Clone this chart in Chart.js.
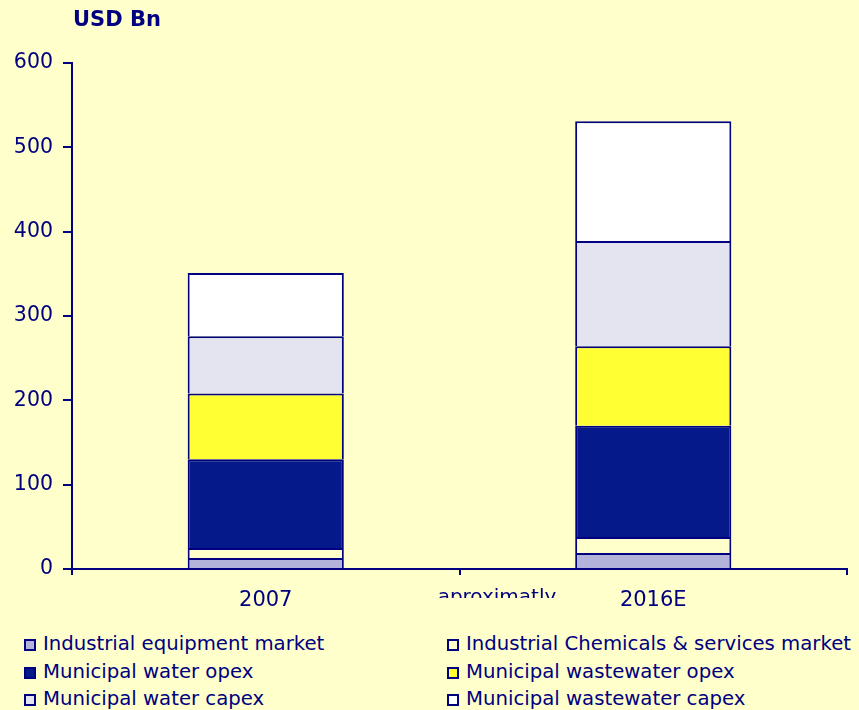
<!DOCTYPE html>
<html>
<head>
<meta charset="utf-8">
<script src="https://cdn.jsdelivr.net/npm/chart.js@4.4.1/dist/chart.umd.min.js"></script>
<style>
  body { margin: 0; background: #ffffcc; font-family: "DejaVu Sans", Verdana, sans-serif; color: #000080; }
  #wrap { position: relative; width: 859px; height: 710px; overflow: hidden; background: #ffffcc; }
  #chart { position: absolute; left: 0; top: 0; }
  #unit { position: absolute; left: 73px; top: 9px; font-weight: bold; font-size: 21px; line-height: 21px; }
  #note { position: absolute; left: 397px; width: 200px; text-align: center; top: 584px; height: 14px; overflow: hidden; font-size: 20px; }
  .leg { position: absolute; font-size: 19.7px; line-height: 20px; white-space: nowrap; }
  .leg i { position: absolute; left: 0; top: 0; width: 8px; height: 8px; border: 2px solid #000080; }
  .leg span { position: absolute; left: 19px; top: -5px; }
</style>
</head>
<body>
<div id="wrap">
  <canvas id="chart" width="859" height="625"></canvas>
  <div id="unit">USD Bn</div>
  <div id="note">aproximatly</div>
  <div id="legend"></div>
</div>
<script>
const categories = ['2007', '2016E'];
const seriesNames = [
  'Industrial equipment market',
  'Industrial Chemicals & services market',
  'Municipal water opex',
  'Municipal wastewater opex',
  'Municipal water capex',
  'Municipal wastewater capex'
];
const industrialEquipment = [13, 19];
const industrialChemicals = [12, 19];
const waterOpex = [105, 132];
const wastewaterOpex = [78, 94];
const waterCapex = [68, 125];
const wastewaterCapex = [75, 142];
const yTicks = [0, 100, 200, 300, 400, 500, 600];

const navy = '#000080';
const colors = ['#b2b2da', '#ffffcc', '#06198a', '#ffff33', '#e3e4f0', '#ffffff'];
const values = [industrialEquipment, industrialChemicals, waterOpex, wastewaterOpex, waterCapex, wastewaterCapex];

const datasets = seriesNames.map((name, i) => ({
  label: name,
  data: values[i],
  backgroundColor: colors[i],
  borderColor: navy,
  borderWidth: 2,
  barPercentage: 0.403,
  categoryPercentage: 1
}));

new Chart(document.querySelector('#chart'), {
  type: 'bar',
  data: { labels: categories, datasets },
  options: {
    responsive: false,
    animation: false,
    layout: { padding: { top: 63, right: 12, left: 0, bottom: 0 } },
    plugins: { legend: { display: false }, tooltip: { enabled: false } },
    scales: {
      x: {
        stacked: true,
        afterFit: s => { s.height = 56; },
        grid: { offset: true, drawOnChartArea: false, drawTicks: true, tickLength: 6, color: navy, lineWidth: 2 },
        border: { color: navy, width: 2 },
        ticks: { color: navy, padding: 13, font: { family: 'DejaVu Sans', size: 21 } }
      },
      y: {
        stacked: true,
        min: 0,
        max: 600,
        afterFit: s => { s.width = 72; },
        afterBuildTicks: s => { s.ticks = yTicks.map(v => ({ value: v })); },
        grid: { drawOnChartArea: false, drawTicks: true, tickLength: 9, color: navy, lineWidth: 2 },
        border: { color: navy, width: 2 },
        ticks: { color: navy, padding: 10, font: { family: 'DejaVu Sans', size: 20.5 } }
      }
    }
  }
});

// two-column legend, same order as the datasets
const legendPos = [[24, 639], [447, 639], [24, 667], [447, 667], [24, 694], [447, 694]];
document.querySelector('#legend').innerHTML = seriesNames.map((name, i) => `
  <div class="leg" style="left:${legendPos[i][0]}px;top:${legendPos[i][1]}px">
    <i style="background:${colors[i]}"></i><span>${name.replace('&', '&amp;')}</span>
  </div>
`).join('');
</script>
</body>
</html>
